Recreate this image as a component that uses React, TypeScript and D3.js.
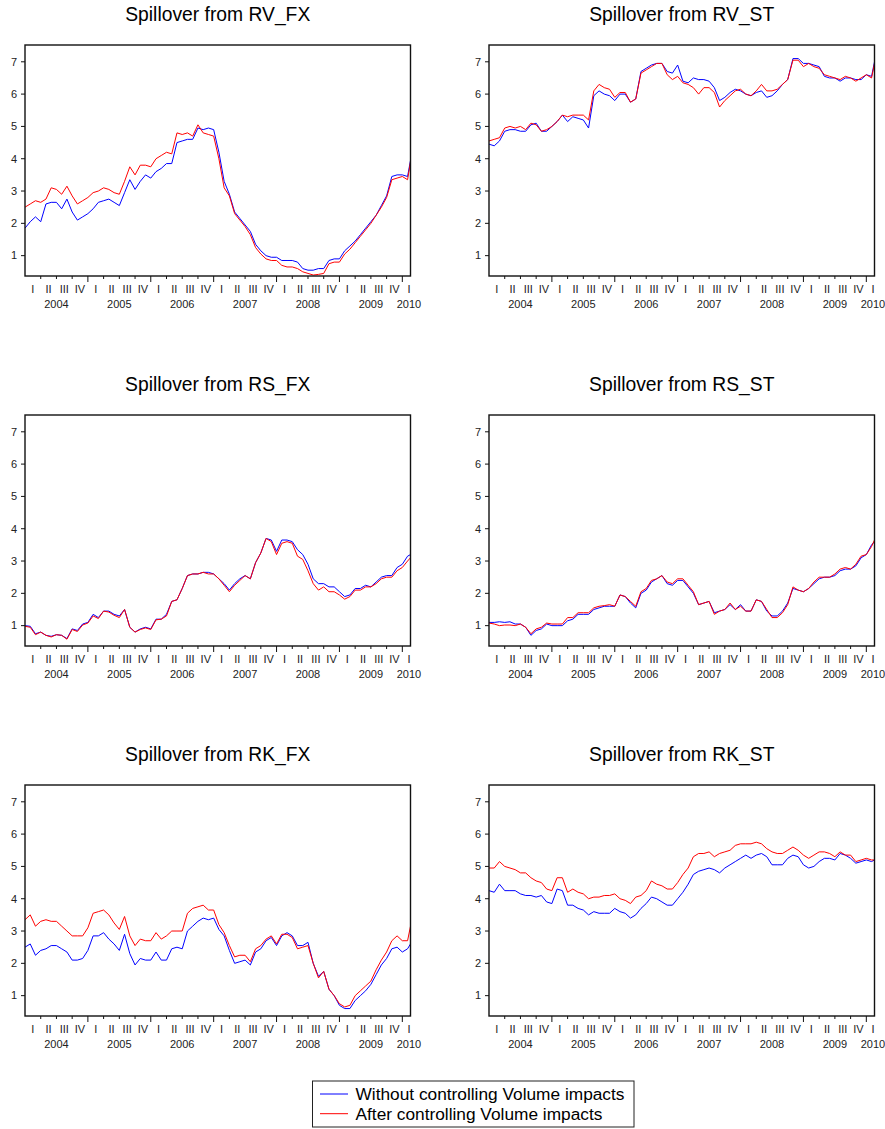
import React from 'react';
import * as d3 from 'd3';

// ---------- data (monthly readings, Jan 2004 .. mid-Feb 2010) ----------
const END_MONTH = 73.56; // months after Jan 2004 where the sample ends
const obsMonths: number[] = [...d3.range(74), END_MONTH];

const panelTitles = [
  'Spillover from RV_FX',
  'Spillover from RV_ST',
  'Spillover from RS_FX',
  'Spillover from RS_ST',
  'Spillover from RK_FX',
  'Spillover from RK_ST',
];

const seriesNames = ['Without controlling Volume impacts', 'After controlling Volume impacts'];
const seriesColors = ['#0000ff', '#ff0000'];

const rvFxWithout = [1.85, 2.05, 2.2, 2.05, 2.6, 2.65, 2.65, 2.45, 2.75, 2.35, 2.1, 2.2, 2.3, 2.45, 2.65, 2.7, 2.75, 2.65, 2.55, 2.95, 3.35, 3.05, 3.3, 3.5, 3.4, 3.6, 3.7, 3.85, 3.85, 4.5, 4.55, 4.6, 4.6, 4.95, 4.9, 4.95, 4.9, 4.2, 3.3, 2.9, 2.35, 2.15, 1.95, 1.75, 1.35, 1.15, 1.0, 0.95, 0.95, 0.85, 0.85, 0.85, 0.8, 0.6, 0.55, 0.55, 0.6, 0.6, 0.85, 0.9, 0.9, 1.15, 1.3, 1.45, 1.65, 1.85, 2.05, 2.25, 2.55, 2.85, 3.45, 3.5, 3.5, 3.45, 3.95];
const rvFxAfter = [2.5, 2.6, 2.7, 2.65, 2.75, 3.1, 3.05, 2.9, 3.15, 2.85, 2.6, 2.7, 2.8, 2.95, 3.0, 3.1, 3.05, 2.95, 2.9, 3.3, 3.75, 3.5, 3.8, 3.8, 3.75, 4.0, 4.1, 4.2, 4.15, 4.8, 4.75, 4.8, 4.7, 5.05, 4.8, 4.75, 4.7, 4.0, 3.1, 2.85, 2.3, 2.1, 1.9, 1.65, 1.25, 1.05, 0.9, 0.85, 0.85, 0.7, 0.65, 0.65, 0.6, 0.5, 0.45, 0.4, 0.42, 0.45, 0.75, 0.8, 0.8, 1.05, 1.2, 1.4, 1.6, 1.8, 2.0, 2.25, 2.5, 2.8, 3.35, 3.4, 3.45, 3.35, 3.9];

const rvStWithout = [4.45, 4.4, 4.55, 4.85, 4.9, 4.9, 4.85, 4.85, 5.05, 5.1, 4.85, 4.85, 5.0, 5.15, 5.35, 5.15, 5.3, 5.25, 5.2, 4.95, 5.95, 6.1, 6.0, 5.95, 5.8, 6.0, 6.0, 5.75, 5.85, 6.7, 6.8, 6.9, 6.95, 6.95, 6.7, 6.65, 6.9, 6.4, 6.35, 6.5, 6.45, 6.45, 6.4, 6.2, 5.8, 5.9, 6.05, 6.15, 6.1, 6.0, 5.95, 6.05, 6.1, 5.9, 5.95, 6.1, 6.3, 6.45, 7.1, 7.1, 6.95, 6.95, 6.9, 6.85, 6.55, 6.5, 6.5, 6.4, 6.5, 6.5, 6.45, 6.45, 6.6, 6.55, 7.0];
const rvStAfter = [4.55, 4.6, 4.65, 4.95, 5.0, 4.95, 5.0, 4.9, 5.1, 5.05, 4.85, 4.9, 5.0, 5.15, 5.35, 5.3, 5.35, 5.35, 5.35, 5.2, 6.1, 6.3, 6.2, 6.15, 5.9, 6.05, 6.05, 5.75, 5.85, 6.65, 6.75, 6.85, 6.95, 6.95, 6.6, 6.45, 6.55, 6.35, 6.3, 6.2, 6.0, 6.2, 6.2, 6.05, 5.6, 5.8, 5.95, 6.1, 6.15, 6.0, 5.95, 6.1, 6.3, 6.1, 6.1, 6.15, 6.3, 6.45, 7.05, 7.05, 6.85, 6.95, 6.85, 6.8, 6.6, 6.55, 6.5, 6.45, 6.55, 6.5, 6.4, 6.5, 6.6, 6.5, 6.95];

const rsFxWithout = [1.0, 0.98, 0.75, 0.8, 0.7, 0.67, 0.72, 0.7, 0.6, 0.9, 0.85, 1.05, 1.1, 1.35, 1.25, 1.45, 1.45, 1.35, 1.3, 1.5, 0.95, 0.8, 0.9, 0.95, 0.9, 1.2, 1.2, 1.35, 1.75, 1.8, 2.15, 2.55, 2.6, 2.6, 2.65, 2.65, 2.6, 2.45, 2.3, 2.1, 2.3, 2.45, 2.55, 2.45, 2.95, 3.25, 3.7, 3.65, 3.3, 3.65, 3.65, 3.6, 3.35, 3.2, 2.9, 2.45, 2.3, 2.3, 2.2, 2.2, 2.05, 1.9, 1.95, 2.15, 2.15, 2.25, 2.2, 2.35, 2.5, 2.55, 2.55, 2.8, 2.9, 3.15, 3.2];
const rsFxAfter = [0.98, 0.95, 0.72, 0.8, 0.7, 0.65, 0.72, 0.7, 0.58, 0.88, 0.82, 1.02, 1.08, 1.3, 1.22, 1.45, 1.42, 1.32, 1.25, 1.5, 0.95, 0.8, 0.88, 0.93, 0.88, 1.18, 1.2, 1.3, 1.75, 1.8, 2.15, 2.55, 2.6, 2.6, 2.65, 2.6, 2.6, 2.45, 2.25, 2.05, 2.25, 2.4, 2.55, 2.45, 2.95, 3.25, 3.7, 3.6, 3.2, 3.55, 3.6, 3.55, 3.15, 3.05, 2.7, 2.3, 2.1, 2.2, 2.05, 2.05, 1.95, 1.82, 1.9, 2.1, 2.1, 2.2, 2.2, 2.3, 2.45, 2.5, 2.5, 2.7, 2.8, 3.0, 3.1];

const rsStWithout = [1.1, 1.1, 1.12, 1.1, 1.12, 1.05, 1.05, 0.95, 0.7, 0.85, 0.9, 1.05, 1.0, 1.0, 1.0, 1.15, 1.2, 1.35, 1.35, 1.35, 1.5, 1.55, 1.6, 1.6, 1.6, 1.95, 1.9, 1.7, 1.55, 2.0, 2.1, 2.35, 2.45, 2.55, 2.3, 2.25, 2.4, 2.4, 2.2, 2.0, 1.65, 1.7, 1.75, 1.4, 1.45, 1.5, 1.65, 1.5, 1.65, 1.45, 1.45, 1.8, 1.75, 1.45, 1.3, 1.3, 1.45, 1.7, 2.15, 2.1, 2.05, 2.15, 2.3, 2.45, 2.5, 2.5, 2.55, 2.7, 2.75, 2.75, 2.85, 3.1, 3.2, 3.5, 3.6];
const rsStAfter = [1.08, 1.05, 1.0, 1.02, 1.02, 1.0, 1.05, 0.95, 0.75, 0.9, 0.95, 1.08, 1.05, 1.05, 1.05, 1.25, 1.25, 1.4, 1.4, 1.4, 1.55, 1.6, 1.62, 1.65, 1.6, 1.95, 1.9, 1.75, 1.6, 2.05, 2.15, 2.4, 2.45, 2.55, 2.35, 2.3, 2.45, 2.45, 2.25, 2.05, 1.65, 1.7, 1.75, 1.35, 1.45, 1.5, 1.7, 1.5, 1.6, 1.45, 1.45, 1.8, 1.75, 1.5, 1.25, 1.25, 1.4, 1.65, 2.2, 2.1, 2.05, 2.15, 2.35, 2.5, 2.5, 2.5, 2.6, 2.75, 2.8, 2.75, 2.9, 3.15, 3.2, 3.45, 3.65];

const rkFxWithout = [2.5, 2.6, 2.25, 2.4, 2.45, 2.55, 2.55, 2.45, 2.35, 2.1, 2.1, 2.15, 2.4, 2.85, 2.85, 2.95, 2.75, 2.6, 2.4, 2.9, 2.3, 1.95, 2.15, 2.1, 2.1, 2.35, 2.1, 2.1, 2.45, 2.5, 2.45, 3.0, 3.15, 3.3, 3.4, 3.35, 3.4, 3.05, 2.85, 2.4, 2.0, 2.05, 2.1, 1.95, 2.35, 2.45, 2.7, 2.8, 2.55, 2.85, 2.95, 2.85, 2.55, 2.55, 2.65, 2.0, 1.6, 1.75, 1.2, 1.0, 0.7, 0.6, 0.6, 0.85, 1.0, 1.15, 1.35, 1.65, 1.95, 2.15, 2.45, 2.5, 2.35, 2.45, 2.6];
const rkFxAfter = [3.35, 3.5, 3.15, 3.3, 3.35, 3.3, 3.3, 3.15, 3.0, 2.85, 2.85, 2.85, 3.1, 3.55, 3.6, 3.65, 3.5, 3.25, 3.05, 3.45, 2.85, 2.55, 2.75, 2.7, 2.7, 2.95, 2.75, 2.85, 3.0, 3.0, 3.0, 3.55, 3.7, 3.75, 3.8, 3.65, 3.65, 3.2, 2.95, 2.55, 2.2, 2.25, 2.25, 2.05, 2.45, 2.55, 2.75, 2.85, 2.6, 2.9, 2.9, 2.8, 2.45, 2.5, 2.55, 2.0, 1.55, 1.75, 1.2, 1.0, 0.75, 0.65, 0.7, 1.0, 1.15, 1.3, 1.45, 1.8, 2.1, 2.35, 2.7, 2.85, 2.7, 2.7, 3.15];

const rkStWithout = [4.25, 4.2, 4.45, 4.25, 4.25, 4.25, 4.15, 4.1, 4.1, 4.05, 4.1, 3.9, 3.85, 4.3, 4.25, 3.8, 3.8, 3.7, 3.65, 3.5, 3.6, 3.55, 3.55, 3.55, 3.7, 3.6, 3.55, 3.4, 3.5, 3.7, 3.85, 4.05, 4.0, 3.9, 3.8, 3.8, 4.0, 4.2, 4.45, 4.75, 4.85, 4.9, 4.95, 4.9, 4.8, 4.95, 5.05, 5.15, 5.25, 5.35, 5.25, 5.35, 5.4, 5.3, 5.05, 5.05, 5.05, 5.25, 5.35, 5.3, 5.05, 4.95, 5.0, 5.15, 5.25, 5.25, 5.2, 5.4, 5.35, 5.25, 5.1, 5.15, 5.2, 5.15, 5.2];
const rkStAfter = [4.95, 4.95, 5.15, 5.0, 4.95, 4.9, 4.8, 4.8, 4.65, 4.55, 4.5, 4.3, 4.25, 4.65, 4.65, 4.2, 4.3, 4.2, 4.15, 4.0, 4.05, 4.05, 4.1, 4.1, 4.15, 4.0, 3.95, 3.85, 4.05, 4.1, 4.25, 4.55, 4.45, 4.4, 4.3, 4.3, 4.5, 4.75, 4.95, 5.3, 5.4, 5.4, 5.45, 5.3, 5.4, 5.45, 5.5, 5.65, 5.7, 5.7, 5.7, 5.75, 5.7, 5.55, 5.45, 5.4, 5.4, 5.5, 5.6, 5.5, 5.35, 5.25, 5.35, 5.45, 5.45, 5.4, 5.3, 5.45, 5.35, 5.35, 5.15, 5.2, 5.25, 5.2, 5.2];

const panelSeries: number[][][] = [
  [rvFxWithout, rvFxAfter],
  [rvStWithout, rvStAfter],
  [rsFxWithout, rsFxAfter],
  [rsStWithout, rsStAfter],
  [rkFxWithout, rkFxAfter],
  [rkStWithout, rkStAfter],
];

const yTicks = [1, 2, 3, 4, 5, 6, 7];
const yDomain = [0.37, 7.52];
const quarterLabels = ['I', 'II', 'III', 'IV'];
const yearLabels = ['2004', '2005', '2006', '2007', '2008', '2009', '2010'];

// ---------- layout ----------
const W = 885;
const H = 1129;
const colLeft = [25, 489];
const rowTop = [45, 415, 785];
const plotW = 385.5;
const plotH = 231;
const FONT = "'Liberation Sans', Arial, Helvetica, sans-serif";

function Panel({ idx }: { idx: number }) {
  const left = colLeft[idx % 2];
  const top = rowTop[Math.floor(idx / 2)];
  const x = d3.scaleLinear().domain([0, END_MONTH]).range([left, left + plotW]);
  const y = d3.scaleLinear().domain(yDomain).range([top + plotH, top]);
  const line = d3
    .line<number>()
    .x((_, i) => x(obsMonths[i]))
    .y((d) => y(d));
  const bottom = top + plotH;
  const nQuarters = Math.ceil(END_MONTH / 3);
  const quarterTicks = d3.range(1, nQuarters).map((q) => q * 3);
  const clipId = `clip-${idx}`;
  return (
    <g>
      <text x={left + plotW / 2} y={top - 24} textAnchor="middle" fontSize={19.3} fill="#000">
        {panelTitles[idx]}
      </text>
      <defs>
        <clipPath id={clipId}>
          <rect x={left} y={top} width={plotW} height={plotH} />
        </clipPath>
      </defs>
      <g clipPath={`url(#${clipId})`}>
        {panelSeries[idx].map((s, k) => (
          <path key={k} d={line(s) || ''} fill="none" stroke={seriesColors[k]} strokeWidth={1} />
        ))}
      </g>
      <rect x={left} y={top} width={plotW} height={plotH} fill="none" stroke="#111" strokeWidth={1.4} />
      {yTicks.map((t) => (
        <g key={t}>
          <line x1={left - 4} x2={left} y1={y(t)} y2={y(t)} stroke="#111" strokeWidth={1} />
          <text x={left - 8} y={y(t)} dy="0.35em" textAnchor="end" fontSize={11} fill="#222">
            {t}
          </text>
        </g>
      ))}
      {quarterTicks.map((m) => (
        <line
          key={m}
          x1={x(m)}
          x2={x(m)}
          y1={bottom}
          y2={bottom + (m % 12 === 0 ? 6 : 3)}
          stroke="#111"
          strokeWidth={1}
        />
      ))}
      {d3.range(nQuarters).map((q) => {
        const a = q * 3;
        const b = Math.min(a + 3, END_MONTH);
        const cx = b - a < 3 ? x(END_MONTH) - 1.5 : x((a + b) / 2);
        return (
          <text key={q} x={cx} y={bottom + 16.5} textAnchor="middle" fontSize={11} fill="#222">
            {quarterLabels[q % 4]}
          </text>
        );
      })}
      {yearLabels.map((yl, k) => {
        const a = k * 12;
        const b = Math.min(a + 12, END_MONTH);
        const cx = b - a < 12 ? x(END_MONTH) - 1.5 : x((a + b) / 2);
        return (
          <text key={yl} x={cx} y={bottom + 32} textAnchor="middle" fontSize={11} fill="#222">
            {yl}
          </text>
        );
      })}
    </g>
  );
}

export default function App() {
  const legX = 312.5;
  const legY = 1081;
  return (
    <svg
      width={W}
      height={H}
      style={{ position: 'absolute', left: 0, top: 0, background: '#fff' }}
      fontFamily={FONT}
    >
      <rect x={0} y={0} width={W} height={H} fill="#fff" />
      {panelTitles.map((_, i) => (
        <Panel key={i} idx={i} />
      ))}
      <rect x={legX} y={legY} width={321.5} height={46} fill="#fff" stroke="#222" strokeWidth={1} />
      {seriesNames.map((n, k) => {
        const ly = legY + 13 + k * 19.7;
        return (
          <g key={n}>
            <line x1={legX + 7.5} x2={legX + 35.5} y1={ly} y2={ly} stroke={seriesColors[k]} strokeWidth={1} />
            <text x={legX + 43} y={ly} dy="0.36em" fontSize={17.3} fill="#000">
              {n}
            </text>
          </g>
        );
      })}
    </svg>
  );
}
